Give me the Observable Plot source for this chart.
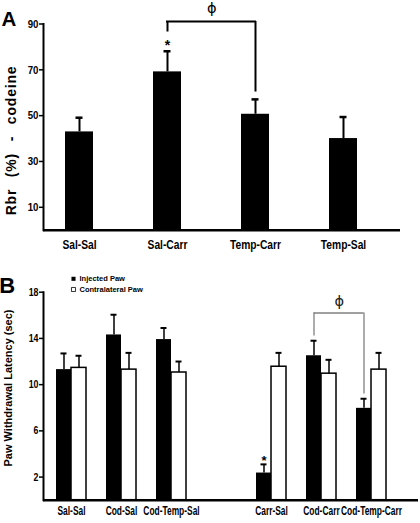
<!DOCTYPE html>
<html><head><meta charset="utf-8">
<script src="https://cdn.jsdelivr.net/npm/d3@7"></script>
<script src="https://cdn.jsdelivr.net/npm/@observablehq/plot@0.6"></script>
<style>
body{margin:0;background:#fff;}
#chart svg{display:block;}
</style></head><body><div id="chart"></div>
<script>
// ---------- Panel A data ----------
const groupsA = ["Sal-Sal", "Sal-Carr", "Temp-Carr", "Temp-Sal"];
const rbrMean = [42.9, 69.1, 50.6, 40.0];
const rbrSem = [6.2, 9.0, 6.5, 9.4];
const rbrSig = ["", "*", "", ""];
const ticksA = [10, 30, 50, 70, 90];
const compA = ["Sal-Carr", "Temp-Carr"];
const yLabelA = "Rbr (%) - codeine";

// ---------- Panel B data ----------
const groupsB = ["Sal-Sal", "Cod-Sal", "Cod-Temp-Sal", "Carr-Sal", "Cod-Carr", "Cod-Temp-Carr"];
const series = ["Injected Paw", "Contralateral Paw"];
const injMean = [11.3, 14.3, 13.9, 2.35, 12.5, 7.95];
const injSem = [1.4, 1.75, 1.0, 0.75, 1.3, 0.83];
const conMean = [11.45, 11.3, 11.05, 11.55, 10.95, 11.3];
const conSem = [1.05, 1.45, 0.95, 1.2, 1.2, 1.45];
const injSig = ["", "", "", "*", "", ""];
const ticksB = [2, 6, 10, 14, 18];
const compB = ["Cod-Carr", "Cod-Temp-Carr"];
const yLabelB = "Paw Withdrawal Latency (sec)";

const SANS = "'Liberation Sans', Arial, sans-serif";
const PHI_FONT = "'DejaVu Sans', sans-serif";

const chart = document.getElementById("chart");

// ================= Panel A =================
const dataA = groupsA.map((g, i) => ({group: g, value: rbrMean[i], upper: rbrMean[i] + rbrSem[i], sig: rbrSig[i]}));
const xRangeA = [64.2, 358.2], padA = 0.6842;
const bandA = d3.scaleBand(groupsA, xRangeA).paddingInner(padA).paddingOuter(0);
const bwA = bandA.bandwidth(), stepA = bandA.step();
const aL = groupsA.indexOf(compA[0]), aR = groupsA.indexOf(compA[1]);
const topA = Math.max(dataA[aL].upper, dataA[aR].upper) + 13;
const legsA = [aL, aR].map(i => ({group: groupsA[i], y1: dataA[i].upper + (dataA[i].sig ? 8.4 : 3.2), y2: topA}));

const plotA = Plot.plot({
  width: 420, height: 262,
  marginTop: 23.5, marginBottom: 32.3, marginLeft: 43, marginRight: 20,
  style: {fontFamily: SANS, background: "white", overflow: "visible"},
  x: {type: "band", domain: groupsA, range: xRangeA, paddingInner: padA, paddingOuter: 0},
  y: {domain: [0, 90]},
  marks: [
    Plot.barY(dataA, {x: "group", y: "value", fill: "black"}),
    Plot.ruleX(dataA, {x: "group", y1: "value", y2: "upper", strokeWidth: 2}),
    Plot.tickY(dataA, {x: "group", y: "upper", strokeWidth: 2.5, insetLeft: (bwA - 7) / 2, insetRight: (bwA - 7) / 2}),
    Plot.ruleY([0], {strokeWidth: 2.5}),
    Plot.frame({anchor: "left", strokeWidth: 2}),
    Plot.axisY({ticks: ticksA, tickSize: 4, tickPadding: 1, strokeWidth: 1.5, fontSize: 11.5, fontWeight: "bold", label: null}),
    Plot.axisX({ticks: groupsA, tickSize: 0, tickPadding: 9.7, fontSize: 12.5, fontWeight: "bold", label: null}),
    Plot.text(dataA.filter(d => d.sig), {x: "group", y: "upper", text: "sig", dy: -5.5, fontSize: 14, fontWeight: "bold"}),
    Plot.ruleX(legsA, {x: "group", y1: "y1", y2: "y2", strokeWidth: 2}),
    Plot.ruleY([{x1: compA[0], x2: compA[1], y: topA}], {x1: "x1", x2: "x2", y: "y", insetLeft: bwA / 2 - 1, insetRight: bwA / 2 - 1, strokeWidth: 2}),
    Plot.text([{x: compA[0], y: topA, t: "ϕ"}], {x: "x", y: "y", text: "t", dx: stepA * (aR - aL) / 2, dy: -13, fontSize: 14.5, fill: "black", fontFamily: PHI_FONT}),
    Plot.text(["A"], {frameAnchor: "top-left", text: d => d, dx: -34.7, dy: -4.5, textAnchor: "middle", lineAnchor: "middle", fontSize: 20.5, fontWeight: "bold"}),
    Plot.text([yLabelA], {frameAnchor: "left", text: d => d, rotate: -90, dx: -32.2, dy: 13.4, textAnchor: "middle", lineAnchor: "middle", fontSize: 14, fontWeight: "bold"})
  ]
});
chart.appendChild(plotA);

// ================= Panel B =================
const domainB = [...groupsB.slice(0, 3), "", ...groupsB.slice(3)];
const inj = groupsB.map((g, i) => ({group: g, value: injMean[i], upper: injMean[i] + injSem[i], sig: injSig[i]}));
const con = groupsB.map((g, i) => ({group: g, value: conMean[i], upper: conMean[i] + conSem[i]}));
const xRangeB = [54.85, 386.97], padB = 0.404;
const bandB = d3.scaleBand(domainB, xRangeB).paddingInner(padB).paddingOuter(0);
const bwB = bandB.bandwidth(), stepB = bandB.step();
const half = bwB / 2, q = bwB / 4;
const bL = groupsB.indexOf(compB[0]), bR = groupsB.indexOf(compB[1]);
const topB = Math.max(inj[bL].upper, inj[bR].upper) + 2.4;
const legsB = [bL, bR].map(i => ({group: groupsB[i], y1: inj[i].upper + 0.4, y2: topB}));
const slotGap = domainB.indexOf(compB[1]) - domainB.indexOf(compB[0]);

const plotB = Plot.plot({
  width: 420, height: 261,
  marginTop: 29.7, marginBottom: 23.3, marginLeft: 43, marginRight: 2,
  style: {fontFamily: SANS, background: "white", overflow: "visible"},
  x: {type: "band", domain: domainB, range: xRangeB, paddingInner: padB, paddingOuter: 0},
  y: {domain: [0, 18]},
  marks: [
    Plot.barY(inj, {x: "group", y: "value", fill: "black", insetRight: half}),
    Plot.barY(con, {x: "group", y: "value", fill: "white", stroke: "black", strokeWidth: 1.5, insetLeft: half}),
    Plot.ruleX(inj, {x: "group", y1: "value", y2: "upper", dx: -q, strokeWidth: 1.5}),
    Plot.tickY(inj, {x: "group", y: "upper", strokeWidth: 2, insetLeft: q - 3, insetRight: half + q - 3}),
    Plot.ruleX(con, {x: "group", y1: "value", y2: "upper", dx: q, strokeWidth: 1.5}),
    Plot.tickY(con, {x: "group", y: "upper", strokeWidth: 2, insetLeft: half + q - 3, insetRight: q - 3}),
    Plot.ruleY([0], {strokeWidth: 2.5}),
    Plot.frame({anchor: "left", strokeWidth: 2}),
    Plot.axisY({ticks: ticksB, tickSize: 4, tickPadding: 1, strokeWidth: 1.5, fontSize: 11, fontWeight: "bold", label: null}),
    Plot.axisX({ticks: groupsB, tickSize: 0, tickPadding: 6.6, fontSize: 12, fontWeight: "bold", label: null}),
    Plot.text(inj.filter(d => d.sig), {x: "group", y: "upper", text: "sig", dx: -q, dy: -3.8, fontSize: 13, fontWeight: "bold"}),
    Plot.ruleX(legsB, {x: "group", y1: "y1", y2: "y2", dx: -q, stroke: "#808080", strokeWidth: 1.3}),
    Plot.ruleY([{x1: compB[0], x2: compB[1], y: topB}], {x1: "x1", x2: "x2", y: "y", insetLeft: q, insetRight: half + q, stroke: "#808080", strokeWidth: 1.3}),
    Plot.text([{x: compB[0], y: topB, t: "ϕ"}], {x: "x", y: "y", text: "t", dx: stepB * slotGap / 2 - q, dy: -11.6, fontSize: 14.5, fill: "#222", fontFamily: PHI_FONT}),
    ...series.map((s, i) => Plot.dot([s], {frameAnchor: "top-left", dx: 30, dy: -13.4 + i * 10.7, symbol: "square", r: 2.3, fill: i === 0 ? "black" : "white", stroke: "black", strokeWidth: i === 0 ? 0 : 0.8})),
    ...series.map((s, i) => Plot.text([s], {frameAnchor: "top-left", text: d => d, dx: 36, dy: -13.4 + i * 10.7, textAnchor: "start", lineAnchor: "middle", fontSize: 7.5, fontWeight: "bold"})),
    Plot.text(["B"], {frameAnchor: "top-left", text: d => d, dx: -36.3, dy: -6.4, textAnchor: "middle", lineAnchor: "middle", fontSize: 22, fontWeight: "bold"}),
    Plot.text([yLabelB], {frameAnchor: "left", text: d => d, rotate: -90, dx: -35, dy: -8.2, textAnchor: "middle", lineAnchor: "middle", fontSize: 11, fontWeight: "bold"})
  ]
});
chart.appendChild(plotB);

// ---- text styling only: condensed axis lettering, spaced y label ----
function condense(svg, selector, factor) {
  d3.select(svg).selectAll(selector).each(function() {
    const len = this.getComputedTextLength();
    if (len > 0) {
      this.setAttribute("textLength", (len * factor).toFixed(2));
      this.setAttribute("lengthAdjust", "spacingAndGlyphs");
    }
  });
}
condense(plotA, 'g[aria-label="x-axis tick label"] text', 0.82);
condense(plotA, 'g[aria-label="y-axis tick label"] text', 0.84);
condense(plotB, 'g[aria-label="x-axis tick label"] text', 0.7);
condense(plotB, 'g[aria-label="y-axis tick label"] text', 0.8);
d3.select(plotA).selectAll("text").filter(function() { return this.textContent === yLabelA; })
  .style("letter-spacing", "0.8px").style("word-spacing", "7px");
</script></body></html>
